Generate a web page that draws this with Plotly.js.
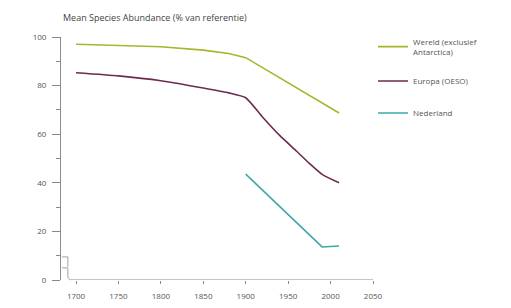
<!DOCTYPE html>
<html>
<head>
<meta charset="utf-8">
<script src="https://cdn.plot.ly/plotly-3.0.1.min.js"></script>
<style>html,body{margin:0;padding:0;background:#fff;}#chart{width:511px;height:308px;}</style>
</head>
<body>
<div id="chart"></div>
<script>
const wereldYears = [1700, 1750, 1800, 1850, 1880, 1900, 1950, 2000, 2010];
const wereldValues = [97, 96.6, 96, 94.6, 93.2, 91.5, 81, 70.8, 68.7];
const europaYears = [1700, 1750, 1800, 1850, 1880, 1900, 1920, 1940, 1960, 1975, 1990, 2010];
const europaValues = [85.3, 84, 82, 79, 77, 75, 67, 59.5, 53, 48, 43.5, 40];
const nederlandYears = [1900, 1990, 2010];
const nederlandValues = [43.6, 13.6, 14];
const names = ['Wereld (exclusief<br>Antarctica)', 'Europa (OESO)', 'Nederland'];
const colors = ['#a9b52c', '#6e2b4f', '#3ea9a8'];
const shapes = ['linear', 'spline', 'linear'];
const xTicks = [1700, 1750, 1800, 1850, 1900, 1950, 2000, 2050];
const yTicks = [0, 20, 40, 60, 80, 100];
const titleText = 'Mean Species Abundance (% van referentie)';

const series = [[wereldYears, wereldValues], [europaYears, europaValues], [nederlandYears, nederlandValues]];
const traces = series.map((s, i) => ({
  x: s[0], y: s[1], type: 'scatter', mode: 'lines', name: names[i],
  line: {color: colors[i], width: 1.6, shape: shapes[i], smoothing: 0.5},
  legendgroup: 'g' + i
}));

const axisColor = '#8a8a8a';
const fontFam = '"Open Sans", "Liberation Sans", sans-serif';
const layout = {
  width: 511, height: 308,
  margin: {l: 61, r: 138, t: 37, b: 28},
  paper_bgcolor: '#fff', plot_bgcolor: '#fff',
  font: {family: fontFam, size: 8, color: '#555'},
  showlegend: true,
  legend: {x: 1.0, xanchor: 'left', y: 1.03, yanchor: 'top', font: {size: 8, color: '#555'}, tracegroupgap: 13, bgcolor: 'rgba(0,0,0,0)'},
  xaxis: {range: [1682.3, 2050], tickvals: xTicks, ticktext: xTicks.map(String), ticks: 'outside', ticklen: 3, tickcolor: axisColor,
          ticklabelstandoff: 5,
          showgrid: false, zeroline: false, showline: false, fixedrange: true, tickfont: {size: 8, color: '#555'}},
  yaxis: {range: [0, 100], tickvals: yTicks, ticks: 'outside', ticklen: 8, tickcolor: axisColor, showline: true, linecolor: axisColor, linewidth: 1,
          ticklabelstandoff: 4,
          showgrid: false, zeroline: false, tickfont: {size: 8, color: '#555'},
          minor: {dtick: 10, tick0: 0, ticks: 'outside', ticklen: 4, tickcolor: axisColor, showgrid: false}},
  shapes: [
    {type: 'line', xref: 'x', yref: 'y', x0: 1693, x1: 2050, y0: 0, y1: 0, line: {color: axisColor, width: 1}},
    {type: 'path', xref: 'paper', yref: 'paper', path: 'M 0.003 0.095 L 0.022 0.095 L 0.022 0.055 M 0.003 0.05 L 0.022 0.05 L 0.022 0.01 L 0.03 0.0', line: {color: axisColor, width: 0.8}}
  ],
  annotations: [
    {text: titleText, xref: 'paper', yref: 'paper', x: 0, y: 1, yshift: 20, xanchor: 'left', yanchor: 'middle', showarrow: false, font: {size: 9, color: '#444'}}
  ]
};
Plotly.newPlot('chart', traces, layout, {displayModeBar: false, staticPlot: true});
</script>
</body>
</html>
